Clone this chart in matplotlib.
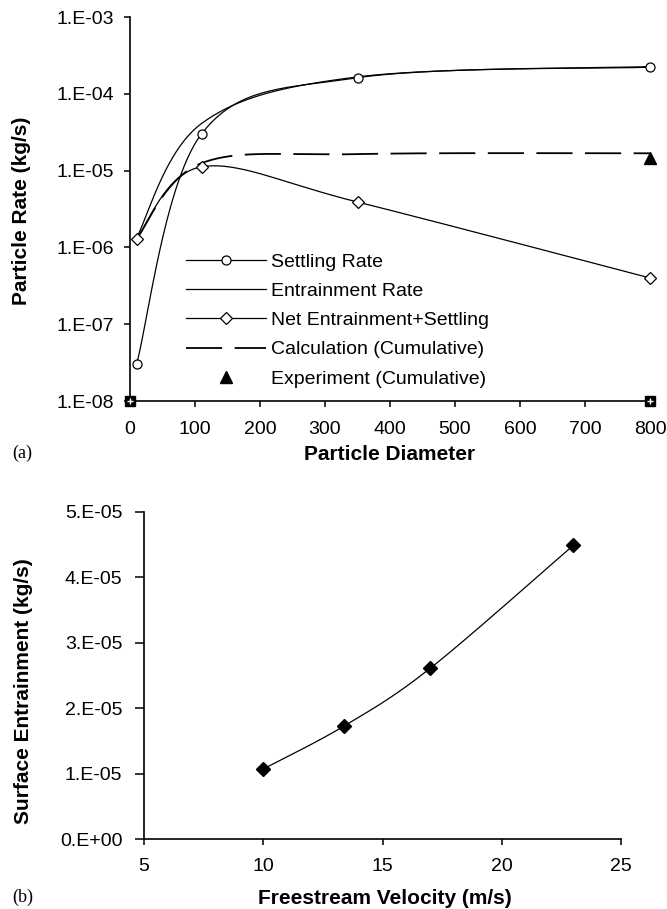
import numpy as np
import matplotlib
matplotlib.use("Agg")
import matplotlib.pyplot as plt
from matplotlib.ticker import FixedLocator, FuncFormatter, NullLocator
from matplotlib.lines import Line2D

plt.rcParams['font.family'] = ['Liberation Sans', 'DejaVu Sans']
plt.rcParams['lines.scale_dashes'] = False

# ---------------- data (a) ----------------
diam = [10, 110, 350, 800]
settling = [3.0e-8, 3.0e-5, 1.62e-4, 2.22e-4]
entrainment = [1.33e-6, 4.1e-5, 1.66e-4, 2.26e-4]
net = [1.3e-6, 1.12e-5, 3.9e-6, 4.0e-7]
calc_cum = [1.3e-6, 1.25e-5, 1.64e-5, 1.68e-5]
exp_x = [800]
exp_cum = [1.44e-5]
zero_x = [0, 800]
zero_y = [1e-8, 1e-8]

ytick_vals_a = [1e-8, 1e-7, 1e-6, 1e-5, 1e-4, 1e-3]
xtick_vals_a = [0, 100, 200, 300, 400, 500, 600, 700, 800]

# ---------------- data (b) ----------------
velocity = [10, 13.4, 17, 23]
surf_ent = [1.07e-5, 1.73e-5, 2.61e-5, 4.49e-5]
ytick_vals_b = [0, 1e-5, 2e-5, 3e-5, 4e-5, 5e-5]
xtick_vals_b = [5, 10, 15, 20, 25]


def excel_smooth(xs, ys, n=60):
    P = np.column_stack([np.asarray(xs, float), np.asarray(ys, float)])
    out = []
    t = np.linspace(0, 1, n)[:, None]
    for i in range(len(P) - 1):
        p0 = P[i - 1] if i > 0 else P[i]
        p1, p2 = P[i], P[i + 1]
        p3 = P[i + 2] if i + 2 < len(P) else P[i + 1]
        c1 = p1 + (p2 - p0) / 6.0
        c2 = p2 - (p3 - p1) / 6.0
        seg = ((1 - t) ** 3) * p1 + 3 * t * (1 - t) ** 2 * c1 + 3 * t ** 2 * (1 - t) * c2 + t ** 3 * p2
        out.append(seg if i == 0 else seg[1:])
    out = np.vstack(out)
    return out[:, 0], out[:, 1]


def smooth_log(xs, ys):
    sx, sy = excel_smooth(xs, np.log10(ys))
    return sx, 10 ** sy


W, H = 667, 909
fig = plt.figure(figsize=(W / 100, H / 100), dpi=100)

def fr(x0, y0, x1, y1):
    return [x0 / W, 1 - y1 / H, (x1 - x0) / W, (y1 - y0) / H]

lw = 0.9
# ---------------- panel (a) ----------------
ax = fig.add_axes(fr(130, 17, 650, 401))
ax.set_yscale('log')
ax.set_xlim(0, 800)
ax.set_ylim(1e-8, 1e-3)

sx, sy = smooth_log(diam, settling)
ax.plot(sx, sy, color='black', lw=lw, clip_on=False)
ax.plot(diam, settling, ls='none', marker='o', ms=6.5, mfc='white', mec='black', mew=0.9, clip_on=False, zorder=5)

sx, sy = smooth_log(diam, entrainment)
ax.plot(sx, sy, color='black', lw=lw, clip_on=False)

sx, sy = smooth_log(diam, net)
ax.plot(sx, sy, color='black', lw=lw, clip_on=False)
ax.plot(diam, net, ls='none', marker='D', ms=6, mfc='white', mec='black', mew=0.9, clip_on=False, zorder=5)

sx, sy = smooth_log(diam, calc_cum)
ax.plot(sx, sy, color='black', lw=1.3, dashes=(26, 9), clip_on=False)

ax.plot(exp_x, exp_cum, ls='none', marker='^', ms=8, mfc='black', mec='black', clip_on=False, zorder=6)
ax.plot(zero_x, zero_y, ls='none', marker='s', ms=6.5, mfc='black', mec='black', clip_on=False, zorder=6)
ax.plot(zero_x, zero_y, ls='none', marker='+', ms=4, mec='white', mew=1.0, clip_on=False, zorder=7)

h = [
    Line2D([], [], color='black', lw=lw, marker='o', ms=6.5, mfc='white', mec='black', mew=0.9),
    Line2D([], [], color='black', lw=lw),
    Line2D([], [], color='black', lw=lw, marker='D', ms=6, mfc='white', mec='black', mew=0.9),
    Line2D([], [], color='black', lw=1.3, dashes=(26, 9)),
    Line2D([], [], ls='none', marker='^', ms=8, mfc='black', mec='black'),
]
labels = ['Settling Rate', 'Entrainment Rate', 'Net Entrainment+Settling',
          'Calculation (Cumulative)', 'Experiment (Cumulative)']
leg = ax.legend(h, labels, loc='upper left', bbox_to_anchor=(186 / W, 1 - 253 / H),
                bbox_transform=fig.transFigure, frameon=False, fontsize=14,
                handlelength=4.1, handletextpad=0.25, labelspacing=0.6,
                borderpad=0, borderaxespad=0, numpoints=1)

ax.yaxis.set_major_locator(FixedLocator(ytick_vals_a))
ax.yaxis.set_minor_locator(NullLocator())
ax.yaxis.set_major_formatter(FuncFormatter(lambda v, p: "1.E-%02d" % round(-np.log10(v))))
ax.xaxis.set_major_locator(FixedLocator(xtick_vals_a))
ax.xaxis.set_major_formatter(FuncFormatter(lambda v, p: "%d" % v))
for s in ['top', 'right']:
    ax.spines[s].set_visible(False)
for s in ['left', 'bottom']:
    ax.spines[s].set_linewidth(1.2)
ax.tick_params(axis='both', direction='out', length=4.5, width=1.1, labelsize=14, color='black')
ax.tick_params(axis='y', pad=7)
ax.tick_params(axis='x', pad=10)

fig.text(390 / W, 1 - 455 / H, 'Particle Diameter', ha='center', va='center', fontsize=15, fontweight='bold')
fig.text(22 / W, 1 - 211 / H, 'Particle Rate (kg/s)', ha='center', va='center', rotation=90, fontsize=15, fontweight='bold')
fig.text(12 / W, 1 - 453 / H, '(a)', ha='left', va='center', fontsize=13, family='Liberation Serif')

# ---------------- panel (b) ----------------
bx = fig.add_axes(fr(144, 512, 621, 839))
bx.set_xlim(5, 25)
bx.set_ylim(0, 5e-5)
sx, sy = excel_smooth(velocity, surf_ent)
bx.plot(sx, sy, color='black', lw=lw)
bx.plot(velocity, surf_ent, ls='none', marker='D', ms=7, mfc='black', mec='black', zorder=5)

bx.yaxis.set_major_locator(FixedLocator(ytick_vals_b))
bx.yaxis.set_major_formatter(FuncFormatter(lambda v, p: "0.E+00" if v == 0 else "%d.E-05" % round(v / 1e-5)))
bx.xaxis.set_major_locator(FixedLocator(xtick_vals_b))
bx.xaxis.set_major_formatter(FuncFormatter(lambda v, p: "%d" % v))
for s in ['top', 'right']:
    bx.spines[s].set_visible(False)
for s in ['left', 'bottom']:
    bx.spines[s].set_linewidth(1.2)
bx.tick_params(axis='both', direction='out', width=1.1, labelsize=14, color='black')
bx.tick_params(axis='y', length=6.5, pad=9)
bx.tick_params(axis='x', length=4, pad=10)

fig.text(385 / W, 1 - 898 / H, 'Freestream Velocity (m/s)', ha='center', va='center', fontsize=15, fontweight='bold')
fig.text(24 / W, 1 - 691 / H, 'Surface Entrainment (kg/s)', ha='center', va='center', rotation=90, fontsize=15, fontweight='bold')
fig.text(12 / W, 1 - 897 / H, '(b)', ha='left', va='center', fontsize=13, family='Liberation Serif')

fig.savefig('out.png', dpi=100)
